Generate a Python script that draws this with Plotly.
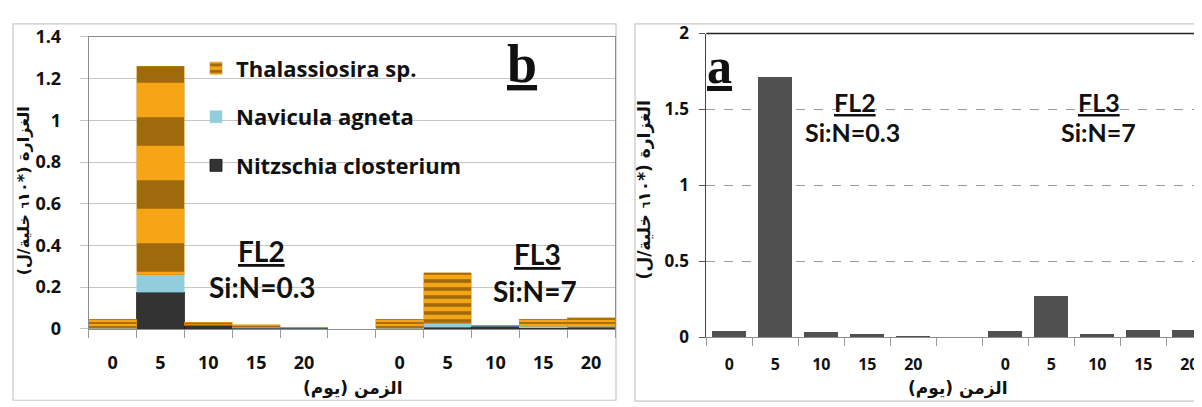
import plotly.graph_objects as go

# ---------------- data ----------------
days = ["0", "5", "10", "15", "20", "", "0", "5", "10", "15", "20"]
positions = list(range(len(days)))

# panel b (stacked, 10^6 cells/L)
nitzschia = [0.001, 0.175, 0.016, 0.003, 0.002, None, 0.001, 0.008, 0.012, 0.005, 0.008]
navicula = [0.001, 0.085, 0.002, 0.002, 0.004, None, 0.001, 0.015, 0.002, 0.007, 0.003]
thalassiosira = [0.044, 1.000, 0.013, 0.015, 0.001, None, 0.044, 0.245, 0.003, 0.034, 0.042]

# panel a (total abundance)
total = [0.041, 1.715, 0.031, 0.019, 0.006, None, 0.041, 0.271, 0.019, 0.048, 0.048]

series_names = ["Nitzschia closterium", "Navicula agneta", "Thalassiosira sp."]

y_title = "\u200fالغزارة (*١٠\u200f<span style='font-size:11px'>٦</span> خلية/ل)\u200f"
x_title = "\u200fالزمن (يوم)\u200f"

# labelled tick positions (the empty separator slot gets no label)
tick_pos = [p for p, d in zip(positions, days) if d]
tick_txt = [d for d in days if d]

# ---------------- styling ----------------
W, H = 1202, 407
LAT = "Lato, 'Open Sans', sans-serif"
OS = "'Open Sans', Lato, sans-serif"
AR = "'DejaVu Sans', sans-serif"
stripe_sizes = [4, 63, 3, 3, 2, 2, 4, 8, 3, 4, 4]


def px(x):
    return x / W


def py(y):
    return 1 - y / H


fig = go.Figure()

fig.add_trace(go.Bar(
    x=positions, y=nitzschia, name=series_names[0], xaxis="x", yaxis="y",
    width=1, marker=dict(color="#333333", line=dict(color="#111111", width=0.8)),
    legendgroup="g1", legendrank=3,
))
fig.add_trace(go.Bar(
    x=positions, y=navicula, name=series_names[1], xaxis="x", yaxis="y",
    width=1, marker=dict(color="#92CDDC", line=dict(color="#92CDDC", width=0.5)),
    legendgroup="g2", legendrank=2,
))
fig.add_trace(go.Bar(
    x=positions, y=thalassiosira, name=series_names[2], xaxis="x", yaxis="y",
    width=1,
    marker=dict(
        color="#F2A20E",
        line=dict(color="#C98A12", width=0.5),
        pattern=dict(shape="-", fillmode="replace", bgcolor="#F6A614",
                     fgcolor="#A06A0C", size=stripe_sizes, solidity=0.45),
    ),
    legendgroup="g3", legendrank=1,
))

fig.add_trace(go.Bar(
    x=positions, y=total, name="total", xaxis="x2", yaxis="y2",
    width=0.74, marker=dict(color="#505050", line=dict(width=0)),
    showlegend=False,
))

common_x = dict(
    range=[-0.5, 10.5], tickmode="array", tickvals=tick_pos, ticktext=tick_txt,
    ticks="", showgrid=False, zeroline=False,
    minor=dict(tickmode="linear", tick0=-0.5, dtick=1, ticks="outside",
               ticklen=8, tickcolor="#9a9a9a", tickwidth=1, showgrid=False),
)

fig.update_layout(
    width=W, height=H, margin=dict(l=0, r=0, t=0, b=0),
    paper_bgcolor="white", plot_bgcolor="white",
    barmode="stack", showlegend=True,
    xaxis=dict(
        **common_x, domain=[px(80.7), px(607)], anchor="y",
        showline=True, linecolor="#8c8c8c", linewidth=1, mirror=True,
        tickfont=dict(family=OS, size=18, color="#111111", weight="bold"),
        ticklabelstandoff=18,
    ),
    yaxis=dict(
        domain=[py(327), py(17)], range=[0, 1.4], dtick=0.2, anchor="x",
        showgrid=True, gridcolor="#c6c6c6", gridwidth=1, zeroline=False,
        ticks="outside", ticklen=8, tickcolor="#c6c6c6",
        showline=True, linecolor="#8c8c8c", linewidth=1, mirror=True,
        tickfont=dict(family=OS, size=18, color="#111111", weight="bold"),
        ticklabelstandoff=15,
    ),
    xaxis2=dict(
        **{**common_x, "range": [-0.5, -0.5 + (W - 698.3) / 46.0]},
        domain=[px(698.3), 1.0], anchor="y2",
        showline=True, linecolor="#8c8c8c", linewidth=1, mirror=False,
        tickfont=dict(family=OS, size=16, color="#111111", weight="bold"),
        ticklabelstandoff=13,
    ),
    yaxis2=dict(
        domain=[py(336), py(13.3)], range=[0, 2], dtick=0.5, anchor="x2",
        showgrid=True, gridcolor="#9a9a9a", gridwidth=1, griddash="dash",
        zeroline=False, ticks="outside", ticklen=6, tickcolor="#555555",
        showline=True, linecolor="#444444", linewidth=1,
        tickfont=dict(family=OS, size=17, color="#111111", weight="bold"),
        ticklabelstandoff=7,
    ),
    legend=dict(
        x=px(188), y=py(28), xanchor="left", yanchor="top",
        traceorder="grouped", tracegroupgap=17,
        font=dict(family=OS, size=22, color="#111111", weight="bold"),
        bgcolor="rgba(0,0,0,0)", itemwidth=30,
    ),
)

# top border of panel a plot area
fig.add_shape(type="line", xref="paper", yref="paper",
              x0=px(698.3), x1=1.0, y0=py(13.3), y1=py(13.3),
              line=dict(color="#222222", width=1.5))

# outer panel frames
fig.add_shape(type="rect", xref="paper", yref="paper",
              x0=px(5), x1=px(608), y0=py(403), y1=py(3),
              line=dict(color="#c8c8c8", width=1.2), layer="below")
fig.add_shape(type="rect", xref="paper", yref="paper",
              x0=px(627), x1=px(1200), y0=py(404), y1=py(3),
              line=dict(color="#c8c8c8", width=1.2), layer="below")


def note(text, x, y, size, family=LAT, **kw):
    fig.add_annotation(text=text, x=px(x), y=py(y), xref="paper", yref="paper",
                       showarrow=False, xanchor="center", yanchor="middle",
                       font=dict(family=family, size=size, color="#111111"), **kw)


# panel b texts
note("<b><u>b</u></b>", 514, 46, 54, family="'Liberation Serif', serif")
note("<b><u>FL2</u></b>", 253, 244, 28)
note("<b>Si:N=0.3</b>", 254, 283, 28)
note("<b><u>FL3</u></b>", 529, 248, 28)
note("<b>Si:N=7</b>", 527, 287, 28)
note("<b>" + y_title + "</b>", 15, 181, 16, family=AR, textangle=-90)
note("<b>" + x_title + "</b>", 345, 390, 17, family=AR)

# panel a texts
note("<b><u>a</u></b>", 711, 48, 50, family="'Liberation Serif', serif")
note("<b><u>FL2</u></b>", 847, 86, 25)
note("<b>Si:N=0.3</b>", 844, 118, 25)
note("<b><u>FL3</u></b>", 1091, 86, 25)
note("<b>Si:N=7</b>", 1090, 118, 25)
note("<b>" + y_title + "</b>", 636, 180, 17, family=AR, textangle=-90)
note("<b>" + x_title + "</b>", 950, 391, 17, family=AR)

fig.write_html("out.html")
